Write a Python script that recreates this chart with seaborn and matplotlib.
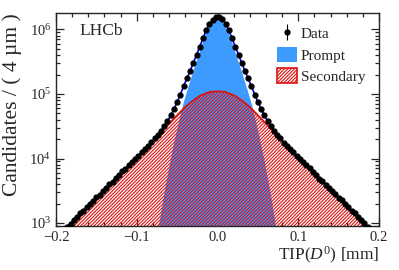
import numpy as np
import pandas as pd
import matplotlib
matplotlib.use("Agg")
import matplotlib.pyplot as plt
from matplotlib.patches import Patch
from matplotlib.ticker import MultipleLocator, LogLocator
import seaborn as sns

# 100 bins of 4 um between -0.2 and 0.2 mm
n_bins = 100
tip_range = (-0.2, 0.2)

# log10(candidates) per bin, left to right
data_log = [
    2.80, 2.84, 2.90, 2.94, 2.99, 3.05, 3.09, 3.15, 3.19, 3.25,
    3.30, 3.34, 3.40, 3.44, 3.50, 3.54, 3.60, 3.64, 3.70, 3.74,
    3.80, 3.84, 3.90, 3.94, 4.00, 4.04, 4.10, 4.14, 4.20, 4.25,
    4.31, 4.37, 4.43, 4.50, 4.58, 4.67, 4.77, 4.88, 4.99, 5.12,
    5.24, 5.36, 5.48, 5.60, 5.73, 5.86, 5.99, 6.09, 6.15, 6.20,
    6.19, 6.16, 6.09, 5.99, 5.86, 5.73, 5.61, 5.48, 5.35, 5.24,
    5.12, 4.99, 4.88, 4.76, 4.67, 4.58, 4.50, 4.43, 4.37, 4.31,
    4.24, 4.20, 4.14, 4.10, 4.04, 4.00, 3.94, 3.90, 3.85, 3.79,
    3.75, 3.69, 3.65, 3.59, 3.55, 3.49, 3.45, 3.39, 3.35, 3.29,
    3.25, 3.19, 3.15, 3.10, 3.04, 3.00, 2.94, 2.90, 2.84, 2.80,
]

# secondary component (log10), left to right
secondary_log = [
    2.795, 2.845, 2.895, 2.945, 2.995, 3.045, 3.095, 3.145, 3.195, 3.245,
    3.295, 3.345, 3.395, 3.445, 3.495, 3.545, 3.595, 3.645, 3.695, 3.745,
    3.795, 3.845, 3.895, 3.945, 3.995, 4.045, 4.095, 4.145, 4.195, 4.245,
    4.300, 4.355, 4.410, 4.460, 4.515, 4.565, 4.620, 4.670, 4.720, 4.775,
    4.820, 4.860, 4.900, 4.935, 4.970, 4.990, 5.010, 5.030, 5.035, 5.040,
    5.040, 5.035, 5.030, 5.010, 4.990, 4.970, 4.935, 4.900, 4.860, 4.820,
    4.775, 4.720, 4.670, 4.620, 4.565, 4.515, 4.460, 4.410, 4.355, 4.300,
    4.245, 4.195, 4.145, 4.095, 4.045, 3.995, 3.945, 3.895, 3.845, 3.795,
    3.745, 3.695, 3.645, 3.595, 3.545, 3.495, 3.445, 3.395, 3.345, 3.295,
    3.245, 3.195, 3.145, 3.095, 3.045, 2.995, 2.945, 2.895, 2.845, 2.795,
]

# prompt component (log10), only the 50 central bins (|TIP| < 0.1 mm)
prompt_log = [
    0.40, 0.86, 1.30, 1.72, 2.11, 2.48, 2.83, 3.15, 3.45, 3.72,
    3.98, 4.22, 4.45, 4.66, 4.86, 5.03, 5.19, 5.35, 5.50, 5.65,
    5.80, 5.94, 6.05, 6.12, 6.165,
    6.165, 6.12, 6.05, 5.94, 5.80, 5.65, 5.50, 5.35, 5.19, 5.03,
    4.86, 4.66, 4.45, 4.22, 3.98, 3.72, 3.45, 3.15, 2.83, 2.48,
    2.11, 1.72, 1.30, 0.86, 0.40,
]

sns.set_style("ticks")
plt.rcParams["font.family"] = ["Liberation Serif", "DejaVu Serif"]
plt.rcParams["mathtext.fontset"] = "custom"
plt.rcParams["mathtext.rm"] = "Liberation Serif"
plt.rcParams["mathtext.it"] = "Liberation Serif:italic"
plt.rcParams["hatch.linewidth"] = 0.8

blauw = "#3d9bff"
rood = "#dd1111"
arcering = "//////////"

bin_w = (tip_range[1] - tip_range[0]) / n_bins
tip = np.linspace(tip_range[0] + bin_w / 2, tip_range[1] - bin_w / 2, n_bins)
data = np.power(10.0, data_log)
secondary = np.power(10.0, secondary_log)
prompt = np.zeros(n_bins)
prompt[25:75] = np.power(10.0, prompt_log)

df = pd.DataFrame({"tip": tip, "total": prompt + secondary, "secondary": secondary})

fig = plt.figure(figsize=(3.99, 2.70), dpi=100)
ax = fig.add_axes([0.1404, 0.163, 0.8095, 0.789])
ax.set_yscale("log")

# filled components
ax.fill_between(tip[25:75], 1, prompt[25:75], color=blauw, lw=0, zorder=1)
ax.fill_between(tip, 1, secondary, facecolor="none", edgecolor=rood,
                hatch=arcering, lw=0, zorder=2)
sns.lineplot(data=df, x="tip", y="secondary", color=rood, lw=1.3, ax=ax, zorder=3)
sns.lineplot(data=df, x="tip", y="total", color="#0000ee", lw=1.2, ax=ax, zorder=4)
data_h = ax.errorbar(tip, data, yerr=np.sqrt(data), fmt="o", color="black",
                     ms=3.5, elinewidth=0.8, capsize=0, zorder=5)

ax.set_xlim(*tip_range)
ax.set_ylim(900, 1.8e6)

ax.xaxis.set_major_locator(MultipleLocator(0.1))
ax.xaxis.set_minor_locator(MultipleLocator(0.02))
ax.yaxis.set_major_locator(LogLocator(base=10))
ax.yaxis.set_minor_locator(LogLocator(base=10, subs=np.arange(2, 10)))
ax.tick_params(which="both", direction="in", top=True, right=True, labelsize=10.5, width=0.9)
ax.tick_params(which="major", length=6)
ax.tick_params(which="minor", length=3)
for s in ax.spines.values():
    s.set_linewidth(1.0)

ax.set_xlabel(r"TIP($D^0$) [mm]", fontsize=12.5, loc="right")
ax.set_ylabel("Candidates / ( 4 µm )", fontsize=15.5, loc="top")
ax.xaxis.set_label_coords(1.0, -0.09)
ax.yaxis.set_label_coords(-0.104, 1.0)

ax.text(0.074, 0.915, "LHCb", transform=ax.transAxes, fontsize=12.5, va="center", ha="left")

handles = [
    data_h,
    Patch(facecolor=blauw, edgecolor="none"),
    Patch(facecolor="white", edgecolor=rood, hatch=arcering, lw=1.2),
]
ax.legend(handles, ["Data", "Prompt", "Secondary"], loc="upper left",
          bbox_to_anchor=(0.685, 0.94), frameon=False, fontsize=11,
          handlelength=1.3, handleheight=1.15, handletextpad=0.25,
          labelspacing=0.35, borderpad=0, borderaxespad=0)

fig.savefig("out.png", dpi=100)
